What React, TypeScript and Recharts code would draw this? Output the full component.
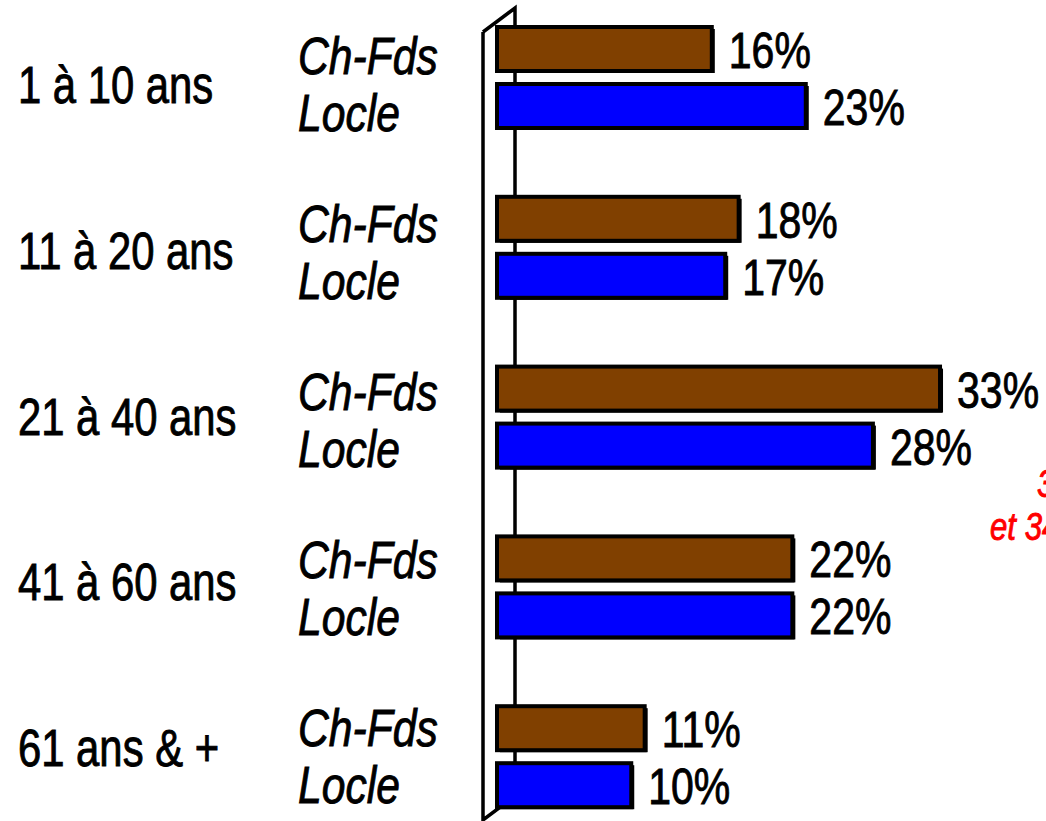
import React from "react";
import { BarChart, Bar, XAxis, YAxis, LabelList, Customized } from "recharts";

const categories = ["1 à 10 ans", "11 à 20 ans", "21 à 40 ans", "41 à 60 ans", "61 ans & +"];
const chFds = [16, 18, 33, 22, 11];
const locle = [23, 17, 28, 22, 10];
const seriesNames = ["Ch-Fds", "Locle"];
const noteLines = ["30%", "et 34%"];

const data = categories.map((c, i) => ({ cat: c, chFds: chFds[i], locle: locle[i] }));

const FONT = "'Liberation Sans', Arial, sans-serif";
const SX = 0.82;
const W = 1046;
const H = 850;
const TOP_SHIFT = -8;
const PLOT_LEFT = 497;

const NText = (p: any) => {
  const { x, y, size, italic, fill, children } = p;
  const c = fill || "#000";
  return (
    <text
      x={0}
      y={0}
      transform={`translate(${x},${y}) scale(${SX},1)`}
      fontFamily={FONT}
      fontSize={size}
      fontStyle={italic ? "italic" : "normal"}
      fill={c}
      stroke={c}
      strokeWidth={0.9}
    >
      {children}
    </text>
  );
};

const BarShape = (props: any) => {
  const { x, y, width, height, fill } = props;
  if (!width || width <= 0) return null;
  return (
    <g>
      <rect x={x + 3} y={y + 2} width={width} height={height} fill="#000" />
      <rect x={x} y={y} width={width} height={height} fill={fill} stroke="#000" strokeWidth={4} />
    </g>
  );
};

const PctLabel = (props: any) => {
  const { x, y, width, height, value } = props;
  return (
    <NText x={x + width + 17} y={y + height / 2 + 19} size={50}>
      {value}%
    </NText>
  );
};

const CatTick = (props: any) => {
  const { y, payload } = props;
  const i = payload.index ?? 0;
  const ageY = y + 25 - 4 * i;
  const serY = y - 2 * i;
  return (
    <g>
      <NText x={18} y={ageY} size={51}>
        {payload.value}
      </NText>
      <NText x={298} y={serY - 3.5} size={52} italic>
        {seriesNames[0]}
      </NText>
      <NText x={298} y={serY + 53.5} size={52} italic>
        {seriesNames[1]}
      </NText>
    </g>
  );
};

const Wall = () => {
  const s = -TOP_SHIFT;
  const fx = PLOT_LEFT - 14;
  const bx = PLOT_LEFT + 18;
  return (
    <g stroke="#000" strokeWidth={3.5} fill="none" strokeLinejoin="miter">
      <polyline points={`${fx},${32 + s} ${bx},${8 + s} ${bx},${796 + s}`} />
      <polyline points={`${fx},${32 + s} ${fx},${820 + s} ${bx},${796 + s}`} />
    </g>
  );
};

const Note = () => {
  const s = -TOP_SHIFT;
  return (
    <g>
      <NText x={1037} y={497 + s} size={38} italic fill="#ff0000">{noteLines[0]}</NText>
      <NText x={990} y={540 + s} size={38} italic fill="#ff0000">{noteLines[1]}</NText>
    </g>
  );
};

export default function App() {
  return (
    <div style={{ position: "fixed", left: 0, top: 0, width: W, height: 821, overflow: "hidden", background: "#fff" }}>
      <div style={{ position: "absolute", left: 0, top: TOP_SHIFT }}>
        <BarChart
          width={W}
          height={H}
          data={data}
          layout="vertical"
          margin={{ top: 1, right: 12, bottom: 0, left: 0 }}
          barSize={44}
          barGap={13}
        >
          <XAxis type="number" domain={[0, 40]} hide />
          <YAxis type="category" dataKey="cat" width={PLOT_LEFT} axisLine={false} tickLine={false} tick={<CatTick />} interval={0} />
          <Customized component={Wall} />
          <Bar dataKey="chFds" fill="#804000" shape={<BarShape />} isAnimationActive={false}>
            <LabelList dataKey="chFds" content={<PctLabel />} />
          </Bar>
          <Bar dataKey="locle" fill="#0000ff" shape={<BarShape />} isAnimationActive={false}>
            <LabelList dataKey="locle" content={<PctLabel />} />
          </Bar>
          <Customized component={Note} />
        </BarChart>
      </div>
    </div>
  );
}
